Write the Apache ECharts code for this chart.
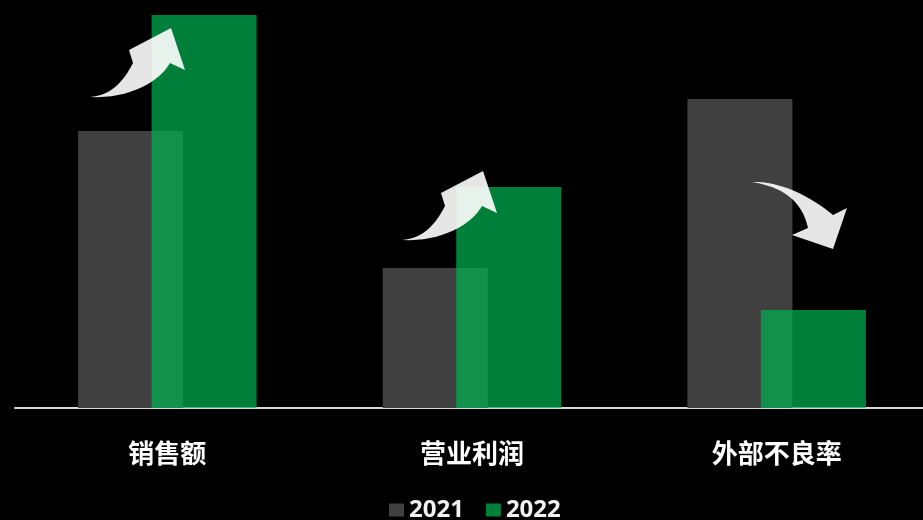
<!DOCTYPE html>
<html>
<head>
<meta charset="utf-8">
<script src="https://cdn.jsdelivr.net/npm/echarts@6/dist/echarts.min.js"></script>
<style>
  html, body { margin: 0; padding: 0; background: #000; }
  #main { width: 923px; height: 520px; }
</style>
</head>
<body>
<div id="main"></div>
<script>
  var categories = ['销售额', '营业利润', '外部不良率'];
  var years = ['2021', '2022'];
  var data2021 = [277, 140, 309];
  var data2022 = [393, 221, 98];

  // 三次贝塞尔曲线采样，用来拼箭头轮廓
  function bez(p0, p1, p2, p3, n) {
    var pts = [];
    for (var i = 0; i <= n; i++) {
      var t = i / n, u = 1 - t;
      pts.push([
        u * u * u * p0[0] + 3 * u * u * t * p1[0] + 3 * u * t * t * p2[0] + t * t * t * p3[0],
        u * u * u * p0[1] + 3 * u * u * t * p1[1] + 3 * u * t * t * p2[1] + t * t * t * p3[1]
      ]);
    }
    return pts;
  }

  // 上升箭头（相对尾部坐标）
  var arrowUpPts = [].concat(
    bez([0, 0], [10, -1], [28, -4], [43, -34], 16),
    [[39, -47], [81, -69], [95, -27]],
    bez([80, -34], [70, -16], [40, 2], [0, 0], 16)
  );
  // 下降箭头
  var arrowDownPts = [].concat(
    bez([0, 0], [28, -1], [58, 14], [81, 33], 16),
    [[95, 26], [81, 67], [40, 53]],
    bez([56, 46], [50, 18], [30, 5], [0, 0], 16)
  );

  function arrow(pts, x, y) {
    return {
      type: 'polygon',
      x: x,
      y: y,
      shape: { points: pts },
      style: { fill: 'rgba(255,255,255,0.9)' },
      z: 100
    };
  }

  var chart = echarts.init(document.getElementById('main'));
  var opt = {
    backgroundColor: '#000',
    grid: {
      left: 15,
      top: 15,
      width: 914,
      bottom: 112,
      outerBoundsMode: 'none',
      containLabel: false
    },
    legend: {
      data: years,
      left: 384,
      top: 493,
      itemWidth: 15,
      itemHeight: 13,
      itemGap: 22,
      icon: 'rect',
      textStyle: {
        color: '#f2f2f2',
        fontSize: 24,
        fontWeight: 'bold',
        fontFamily: 'Open Sans'
      }
    },
    xAxis: {
      type: 'category',
      data: categories,
      axisLine: { lineStyle: { color: '#d9d9d9', width: 2 } },
      axisTick: { show: false },
      axisLabel: {
        color: '#fff',
        fontSize: 26,
        fontWeight: 'bold',
        fontFamily: 'Noto Sans CJK SC',
        margin: 32
      }
    },
    yAxis: {
      type: 'value',
      min: 0,
      max: 393,
      show: false,
      splitLine: { show: false }
    },
    series: [
      {
        name: '2021',
        type: 'bar',
        data: data2021,
        barWidth: 105,
        barGap: '-30%',
        itemStyle: { color: '#404040' }
      },
      {
        name: '2022',
        type: 'bar',
        data: data2022,
        barWidth: 105,
        barGap: '-30%',
        itemStyle: { color: 'rgba(0,176,80,0.72)' }
      }
    ],
    graphic: [
      arrow(arrowUpPts, 90, 97),
      arrow(arrowUpPts, 402, 240),
      arrow(arrowDownPts, 752, 182)
    ]
  };
  chart.setOption(opt);
</script>
</body>
</html>
